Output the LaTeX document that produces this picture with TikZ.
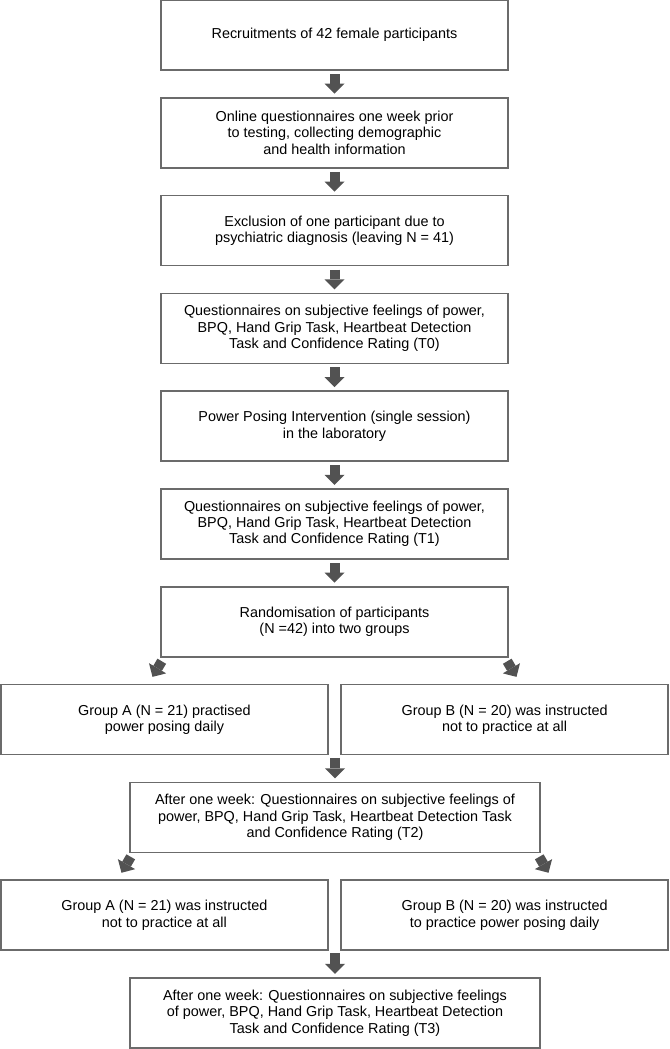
\documentclass[tikz,border=0pt]{standalone}
\usepackage{fontspec}
\setmainfont{Liberation Sans}
\usetikzlibrary{arrows.meta}
\definecolor{boxline}{gray}{0.42}
\definecolor{arrowfill}{gray}{0.32}
\tikzset{
	align=center,
	stage/.style={
		draw=boxline,
		line width=1.1pt,
		rectangle,
		inner sep=0pt,
		minimum height=52.5pt,
		minimum width=260.25pt,
		font=\fontsize{10.8pt}{12.2pt}\selectfont,
	},
	half/.style={
		stage,
		minimum width=245.4pt,
	},
	wide/.style={
		stage,
		minimum width=307.5pt,
	},
	flow/.style={
		draw=arrowfill,
		line width=7.5pt,
		shorten <=2.5pt,
		shorten >=2.5pt,
		-{Triangle[length=7.5pt,width=15pt,line width=0pt]}
	},
	branch/.style={
		flow,
		shorten <=0pt,
		shorten >=0pt,
	},
}

\begin{document}
\begin{tikzpicture}[x=0.75pt,y=-0.75pt]
		\useasboundingbox (0,0) rectangle (669,1049);

		% main column
		\node[stage] (recruit) at (334.5,35) {Recruitments of 42 female participants};
		\node[stage] (online) at (334.5,132.8) {Online questionnaires one week prior\\to testing, collecting demographic\\and health information};
		\node[stage] (exclude) at (334.5,230.6) {Exclusion of one participant due to\\psychiatric diagnosis (leaving N = 41)};
		\node[stage] (pre) at (334.5,328.4) {Questionnaires on subjective feelings of power,\\BPQ, Hand Grip Task, Heartbeat Detection\\Task and Confidence Rating (T0)};
		\node[stage] (pose) at (334.5,426.2) {Power Posing Intervention (single session)\\in the laboratory};
		\node[stage] (post) at (334.5,524) {Questionnaires on subjective feelings of power,\\BPQ, Hand Grip Task, Heartbeat Detection\\Task and Confidence Rating (T1)};
		\node[stage] (rand) at (334.5,621.8) {Randomisation of participants\\(N =42) into two groups};

		% first week
		\node[half] (grpA) at (164.4,719.6) {Group A (N = 21) practised\\power posing daily};
		\node[half] (grpB) at (504.6,719.6) {Group B (N = 20) was instructed\\not to practice at all};
		\node[wide] (week) at (335,817.4) {After one week: Questionnaires on subjective feelings of\\power, BPQ, Hand Grip Task, Heartbeat Detection Task\\and Confidence Rating (T2)};

		% second week
		\node[half] (swapA) at (164.4,915.2) {Group A (N = 21) was instructed\\not to practice at all};
		\node[half] (swapB) at (504.6,915.2) {Group B (N = 20) was instructed\\to practice power posing daily};
		\node[wide] (final) at (335,1013) {After one week: Questionnaires on subjective feelings\\of power, BPQ, Hand Grip Task, Heartbeat Detection\\Task and Confidence Rating (T3)};

		\coordinate (joinT2) at (335,754.5);
		\coordinate (joinT3) at (335,950.1);

		\draw[flow] (recruit) -- (online);
		\draw[flow] (online) -- (exclude);
		\draw[flow] (exclude) -- (pre);
		\draw[flow] (pre) -- (pose);
		\draw[flow] (pose) -- (post);
		\draw[flow] (post) -- (rand);
		\draw[branch] ([shift={(1.5,3.7)}]rand.south west) -- ([shift={(-11.9,-7)}]grpA.north);
		\draw[branch] ([shift={(-1.5,3.7)}]rand.south east) -- ([shift={(11.9,-7)}]grpB.north);
		\draw[flow] (joinT2) -- (week);
		\draw[branch] ([shift={(1.5,3.7)}]week.south west) -- ([shift={(-42.9,-6.7)}]swapA.north);
		\draw[branch] ([shift={(-1.5,3.7)}]week.south east) -- ([shift={(43.9,-6.7)}]swapB.north);
		\draw[flow] (joinT3) -- (final);

	\end{tikzpicture}
\end{document}
